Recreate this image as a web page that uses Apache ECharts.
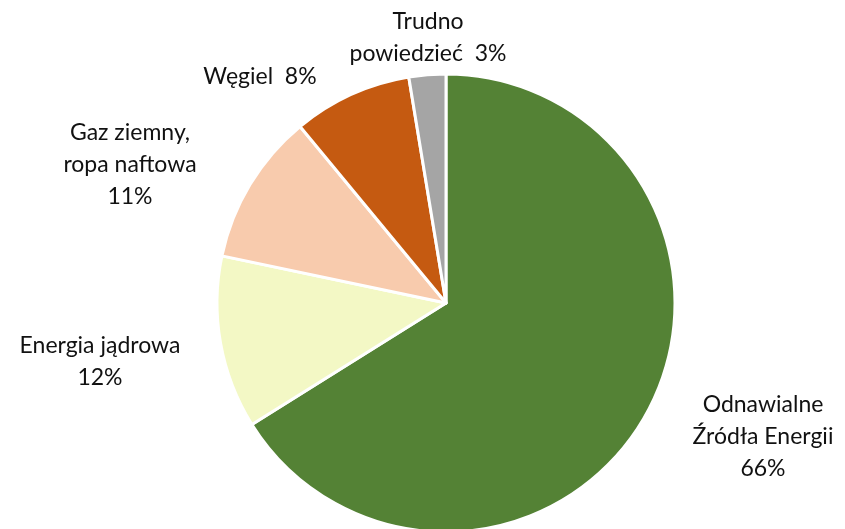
<!DOCTYPE html>
<html>
<head>
<meta charset="utf-8">
<script src="https://cdn.jsdelivr.net/npm/echarts@6/dist/echarts.min.js"></script>
<style>
  html, body { margin: 0; padding: 0; background: #ffffff; }
  #chart { width: 845px; height: 529px; }
</style>
</head>
<body>
<div id="chart"></div>
<script>
// kategorie i wartości (w %)
var categories = ['Odnawialne\nŹródła Energii', 'Energia jądrowa', 'Gaz ziemny,\nropa naftowa', 'Węgiel', 'Trudno\npowiedzieć'];
var values = [66.1, 12.2, 10.7, 8.4, 2.6];
var colors = ['#548235', '#f3f8c5', '#f8cbad', '#c55a11', '#a5a5a5'];

// jak łączyć nazwę z procentem w etykiecie
var labelJoin = ['\n', '\n', '\n', '  ', '  '];
// środki etykiet (px)
var labelAnchor = [[763, 437], [100, 362], [130, 165], [260, 77], [428, 38]];

var chart = echarts.init(document.getElementById('chart'));

var pieData = categories.map(function(c, i) {
    return { name: c, value: values[i], itemStyle: { color: colors[i] } };
});

var option = {
    animation: false,
    backgroundColor: '#ffffff',
    series: [{
        type: 'pie',
        center: [446, 303],
        radius: 229,
        startAngle: 90,
        clockwise: true,
        data: pieData,
        itemStyle: { borderColor: '#ffffff', borderWidth: 3 },
        emphasis: { disabled: true },
        labelLine: { show: false },
        label: {
            show: true,
            position: 'outside',
            color: '#111111',
            fontFamily: 'Lato',
            fontSize: 23,
            lineHeight: 32,
            align: 'center',
            overflow: 'none',
            formatter: function(p) {
                return p.name + labelJoin[p.dataIndex] + Math.round(p.value) + '%';
            }
        },
        labelLayout: function(params) {
            var a = labelAnchor[params.dataIndex];
            return { x: a[0], y: a[1], align: 'center', verticalAlign: 'middle', hideOverlap: false };
        }
    }]
};

chart.setOption(option);
</script>
</body>
</html>
